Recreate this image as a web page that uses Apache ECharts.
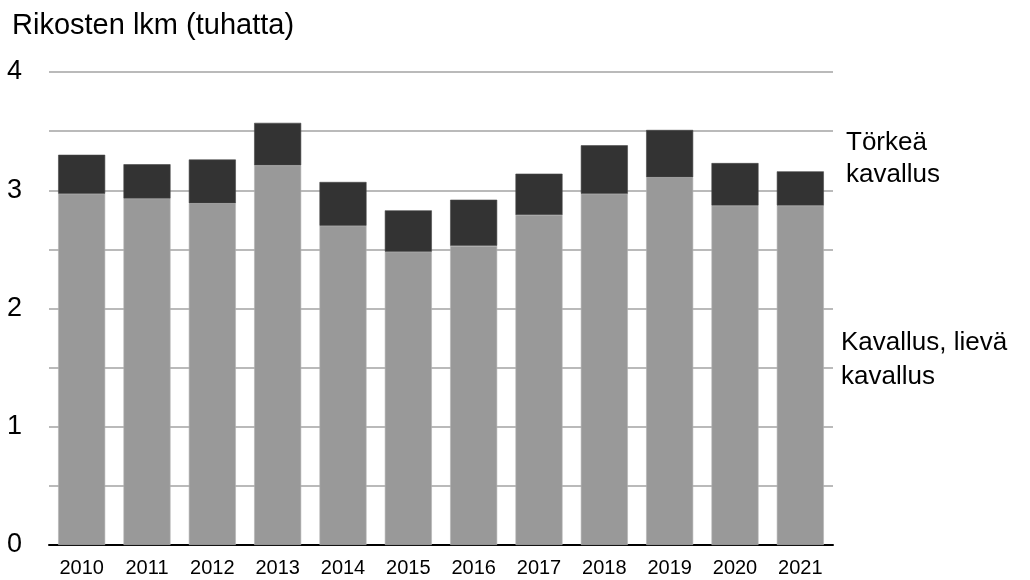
<!DOCTYPE html>
<html>
<head>
<meta charset="utf-8">
<script src="https://cdn.jsdelivr.net/npm/echarts@6/dist/echarts.min.js"></script>
<style>html,body{margin:0;padding:0;background:#fff}#c{width:1030px;height:580px}</style>
</head>
<body>
<div id="c"></div>
<script>
var years = ['2010','2011','2012','2013','2014','2015','2016','2017','2018','2019','2020','2021'];
var lieva = [2.97, 2.93, 2.89, 3.21, 2.70, 2.48, 2.53, 2.79, 2.97, 3.11, 2.87, 2.87];
var torkea = [0.33, 0.29, 0.37, 0.36, 0.37, 0.35, 0.39, 0.35, 0.41, 0.40, 0.36, 0.29];
var seriesNames = ['Kavallus, lievä\nkavallus', 'Törkeä\nkavallus'];
var yTitle = 'Rikosten lkm (tuhatta)';

var font = '"Liberation Sans", Arial, sans-serif';
var chart = echarts.init(document.getElementById('c'), null, {renderer: 'canvas'});
chart.setOption({
  animation: false,
  backgroundColor: '#fff',
  grid: {left: 49, right: 197, top: 72, bottom: 35},
  xAxis: {
    type: 'category',
    data: years,
    axisLine: {lineStyle: {color: '#000', width: 2}},
    axisTick: {show: false},
    axisLabel: {color: '#000', fontSize: 20, fontFamily: font, margin: 13}
  },
  yAxis: {
    type: 'value',
    min: 0, max: 4, interval: 0.5,
    axisLine: {show: false},
    axisTick: {show: false},
    splitLine: {lineStyle: {color: '#a3a3a3', width: 1.5}},
    axisLabel: {
      color: '#000', fontSize: 27, fontFamily: font, align: 'left', margin: 42,
      formatter: function (v) { return Number.isInteger(v) ? String(v) : ''; }
    }
  },
  series: [
    {name: seriesNames[0], type: 'bar', stack: 's', data: lieva, barCategoryGap: '28%',
     itemStyle: {color: '#999999', borderColor: '#b4b4b4', borderWidth: 0.6}},
    {name: seriesNames[1], type: 'bar', stack: 's', data: torkea, barCategoryGap: '28%',
     itemStyle: {color: '#333333', borderColor: '#474747', borderWidth: 0.6}}
  ],
  graphic: [
    {type: 'text', left: 12, top: 11, style: {text: yTitle, fontSize: 29, fontFamily: font, fill: '#000'}},
    {type: 'text', left: 846, top: 127, style: {text: seriesNames[1], fontSize: 26, lineHeight: 32, fontFamily: font, fill: '#000'}},
    {type: 'text', left: 841, top: 326, style: {text: seriesNames[0], fontSize: 26, lineHeight: 34, fontFamily: font, fill: '#000'}}
  ]
});
</script>
</body>
</html>
